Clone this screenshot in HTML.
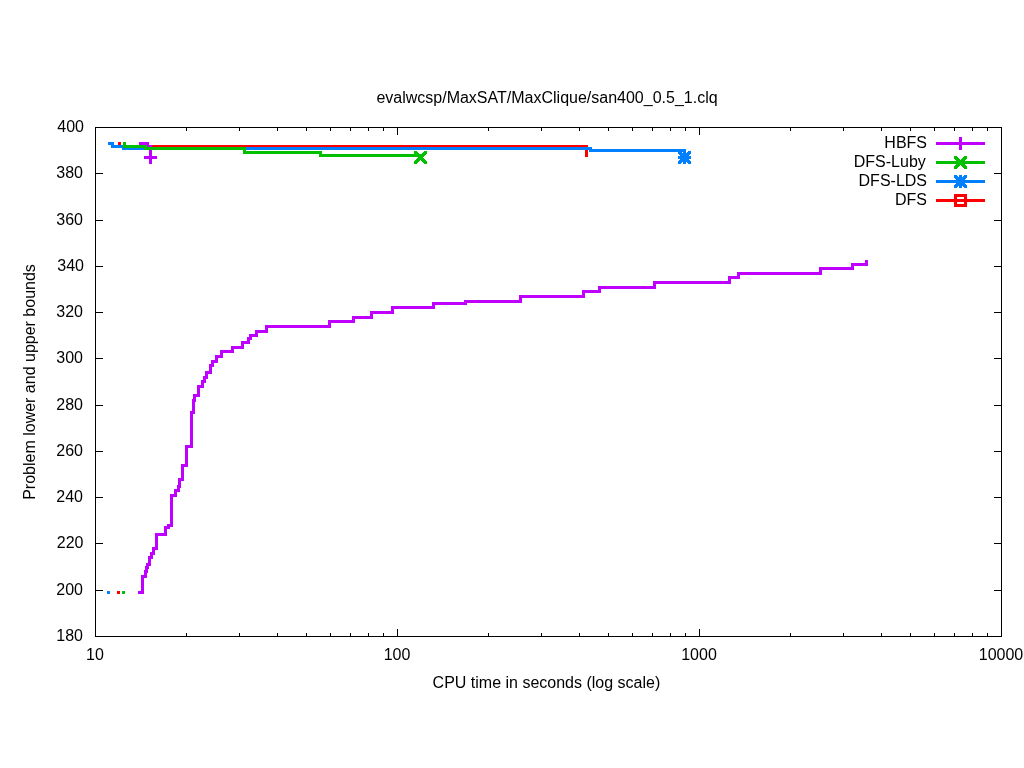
<!DOCTYPE html>
<html><head><meta charset="utf-8"><style>
html,body{margin:0;padding:0;background:#fff;width:1024px;height:768px;overflow:hidden}
svg{display:block}
text{font-family:"Liberation Sans",sans-serif;font-size:16px;fill:#000}
.t{will-change:transform}
</style></head><body>
<svg width="1024" height="768" viewBox="0 0 1024 768">
<rect x="0" y="0" width="1024" height="768" fill="#fff"/>
<g shape-rendering="crispEdges">
<rect x="95" y="127" width="907" height="1" fill="#000"/>
<rect x="95" y="636" width="907" height="1" fill="#000"/>
<rect x="95" y="127" width="1" height="510" fill="#000"/>
<rect x="1001" y="127" width="1" height="510" fill="#000"/>
<rect x="186" y="633" width="1" height="4" fill="#000"/>
<rect x="186" y="127" width="1" height="4" fill="#000"/>
<rect x="239" y="633" width="1" height="4" fill="#000"/>
<rect x="239" y="127" width="1" height="4" fill="#000"/>
<rect x="277" y="633" width="1" height="4" fill="#000"/>
<rect x="277" y="127" width="1" height="4" fill="#000"/>
<rect x="306" y="633" width="1" height="4" fill="#000"/>
<rect x="306" y="127" width="1" height="4" fill="#000"/>
<rect x="330" y="633" width="1" height="4" fill="#000"/>
<rect x="330" y="127" width="1" height="4" fill="#000"/>
<rect x="350" y="633" width="1" height="4" fill="#000"/>
<rect x="350" y="127" width="1" height="4" fill="#000"/>
<rect x="368" y="633" width="1" height="4" fill="#000"/>
<rect x="368" y="127" width="1" height="4" fill="#000"/>
<rect x="383" y="633" width="1" height="4" fill="#000"/>
<rect x="383" y="127" width="1" height="4" fill="#000"/>
<rect x="397" y="629" width="1" height="8" fill="#000"/>
<rect x="397" y="127" width="1" height="8" fill="#000"/>
<rect x="488" y="633" width="1" height="4" fill="#000"/>
<rect x="488" y="127" width="1" height="4" fill="#000"/>
<rect x="541" y="633" width="1" height="4" fill="#000"/>
<rect x="541" y="127" width="1" height="4" fill="#000"/>
<rect x="579" y="633" width="1" height="4" fill="#000"/>
<rect x="579" y="127" width="1" height="4" fill="#000"/>
<rect x="608" y="633" width="1" height="4" fill="#000"/>
<rect x="608" y="127" width="1" height="4" fill="#000"/>
<rect x="632" y="633" width="1" height="4" fill="#000"/>
<rect x="632" y="127" width="1" height="4" fill="#000"/>
<rect x="652" y="633" width="1" height="4" fill="#000"/>
<rect x="652" y="127" width="1" height="4" fill="#000"/>
<rect x="670" y="633" width="1" height="4" fill="#000"/>
<rect x="670" y="127" width="1" height="4" fill="#000"/>
<rect x="685" y="633" width="1" height="4" fill="#000"/>
<rect x="685" y="127" width="1" height="4" fill="#000"/>
<rect x="699" y="629" width="1" height="8" fill="#000"/>
<rect x="699" y="127" width="1" height="8" fill="#000"/>
<rect x="790" y="633" width="1" height="4" fill="#000"/>
<rect x="790" y="127" width="1" height="4" fill="#000"/>
<rect x="843" y="633" width="1" height="4" fill="#000"/>
<rect x="843" y="127" width="1" height="4" fill="#000"/>
<rect x="881" y="633" width="1" height="4" fill="#000"/>
<rect x="881" y="127" width="1" height="4" fill="#000"/>
<rect x="910" y="633" width="1" height="4" fill="#000"/>
<rect x="910" y="127" width="1" height="4" fill="#000"/>
<rect x="934" y="633" width="1" height="4" fill="#000"/>
<rect x="934" y="127" width="1" height="4" fill="#000"/>
<rect x="954" y="633" width="1" height="4" fill="#000"/>
<rect x="954" y="127" width="1" height="4" fill="#000"/>
<rect x="972" y="633" width="1" height="4" fill="#000"/>
<rect x="972" y="127" width="1" height="4" fill="#000"/>
<rect x="987" y="633" width="1" height="4" fill="#000"/>
<rect x="987" y="127" width="1" height="4" fill="#000"/>
<rect x="95" y="590" width="8" height="1" fill="#000"/>
<rect x="994" y="590" width="8" height="1" fill="#000"/>
<rect x="95" y="543" width="8" height="1" fill="#000"/>
<rect x="994" y="543" width="8" height="1" fill="#000"/>
<rect x="95" y="497" width="8" height="1" fill="#000"/>
<rect x="994" y="497" width="8" height="1" fill="#000"/>
<rect x="95" y="451" width="8" height="1" fill="#000"/>
<rect x="994" y="451" width="8" height="1" fill="#000"/>
<rect x="95" y="405" width="8" height="1" fill="#000"/>
<rect x="994" y="405" width="8" height="1" fill="#000"/>
<rect x="95" y="358" width="8" height="1" fill="#000"/>
<rect x="994" y="358" width="8" height="1" fill="#000"/>
<rect x="95" y="312" width="8" height="1" fill="#000"/>
<rect x="994" y="312" width="8" height="1" fill="#000"/>
<rect x="95" y="266" width="8" height="1" fill="#000"/>
<rect x="994" y="266" width="8" height="1" fill="#000"/>
<rect x="95" y="220" width="8" height="1" fill="#000"/>
<rect x="994" y="220" width="8" height="1" fill="#000"/>
<rect x="95" y="173" width="8" height="1" fill="#000"/>
<rect x="994" y="173" width="8" height="1" fill="#000"/>
<rect x="138" y="591" width="6" height="3" fill="#c000ff"/>
<rect x="141" y="575" width="3" height="19" fill="#c000ff"/>
<rect x="141" y="575" width="6" height="3" fill="#c000ff"/>
<rect x="144" y="570" width="3" height="8" fill="#c000ff"/>
<rect x="144" y="570" width="4" height="3" fill="#c000ff"/>
<rect x="145" y="566" width="3" height="7" fill="#c000ff"/>
<rect x="145" y="566" width="4" height="3" fill="#c000ff"/>
<rect x="146" y="563" width="3" height="6" fill="#c000ff"/>
<rect x="146" y="563" width="5" height="3" fill="#c000ff"/>
<rect x="148" y="556" width="3" height="10" fill="#c000ff"/>
<rect x="148" y="556" width="5" height="3" fill="#c000ff"/>
<rect x="150" y="552" width="3" height="7" fill="#c000ff"/>
<rect x="150" y="552" width="5" height="3" fill="#c000ff"/>
<rect x="152" y="547" width="3" height="8" fill="#c000ff"/>
<rect x="152" y="547" width="6" height="3" fill="#c000ff"/>
<rect x="155" y="533" width="3" height="17" fill="#c000ff"/>
<rect x="155" y="533" width="12" height="3" fill="#c000ff"/>
<rect x="164" y="526" width="3" height="10" fill="#c000ff"/>
<rect x="164" y="526" width="6" height="3" fill="#c000ff"/>
<rect x="167" y="524" width="3" height="5" fill="#c000ff"/>
<rect x="167" y="524" width="6" height="3" fill="#c000ff"/>
<rect x="170" y="494" width="3" height="33" fill="#c000ff"/>
<rect x="170" y="494" width="7" height="3" fill="#c000ff"/>
<rect x="174" y="489" width="3" height="8" fill="#c000ff"/>
<rect x="174" y="489" width="6" height="3" fill="#c000ff"/>
<rect x="177" y="485" width="3" height="7" fill="#c000ff"/>
<rect x="177" y="485" width="4" height="3" fill="#c000ff"/>
<rect x="178" y="478" width="3" height="10" fill="#c000ff"/>
<rect x="178" y="478" width="6" height="3" fill="#c000ff"/>
<rect x="181" y="464" width="3" height="17" fill="#c000ff"/>
<rect x="181" y="464" width="7" height="3" fill="#c000ff"/>
<rect x="185" y="445" width="3" height="22" fill="#c000ff"/>
<rect x="185" y="445" width="8" height="3" fill="#c000ff"/>
<rect x="190" y="411" width="3" height="37" fill="#c000ff"/>
<rect x="190" y="411" width="5" height="3" fill="#c000ff"/>
<rect x="192" y="399" width="3" height="15" fill="#c000ff"/>
<rect x="192" y="399" width="4" height="3" fill="#c000ff"/>
<rect x="193" y="394" width="3" height="8" fill="#c000ff"/>
<rect x="193" y="394" width="7" height="3" fill="#c000ff"/>
<rect x="197" y="385" width="3" height="12" fill="#c000ff"/>
<rect x="197" y="385" width="7" height="3" fill="#c000ff"/>
<rect x="201" y="380" width="3" height="8" fill="#c000ff"/>
<rect x="201" y="380" width="5" height="3" fill="#c000ff"/>
<rect x="203" y="376" width="3" height="7" fill="#c000ff"/>
<rect x="203" y="376" width="5" height="3" fill="#c000ff"/>
<rect x="205" y="371" width="3" height="8" fill="#c000ff"/>
<rect x="205" y="371" width="7" height="3" fill="#c000ff"/>
<rect x="209" y="364" width="3" height="10" fill="#c000ff"/>
<rect x="209" y="364" width="5" height="3" fill="#c000ff"/>
<rect x="211" y="360" width="3" height="7" fill="#c000ff"/>
<rect x="211" y="360" width="7" height="3" fill="#c000ff"/>
<rect x="215" y="355" width="3" height="8" fill="#c000ff"/>
<rect x="215" y="355" width="8" height="3" fill="#c000ff"/>
<rect x="220" y="350" width="3" height="8" fill="#c000ff"/>
<rect x="220" y="350" width="14" height="3" fill="#c000ff"/>
<rect x="231" y="346" width="3" height="7" fill="#c000ff"/>
<rect x="231" y="346" width="13" height="3" fill="#c000ff"/>
<rect x="241" y="341" width="3" height="8" fill="#c000ff"/>
<rect x="241" y="341" width="9" height="3" fill="#c000ff"/>
<rect x="247" y="337" width="3" height="7" fill="#c000ff"/>
<rect x="247" y="337" width="5" height="3" fill="#c000ff"/>
<rect x="249" y="334" width="3" height="6" fill="#c000ff"/>
<rect x="249" y="334" width="9" height="3" fill="#c000ff"/>
<rect x="255" y="330" width="3" height="7" fill="#c000ff"/>
<rect x="255" y="330" width="13" height="3" fill="#c000ff"/>
<rect x="265" y="325" width="3" height="8" fill="#c000ff"/>
<rect x="265" y="325" width="66" height="3" fill="#c000ff"/>
<rect x="328" y="320" width="3" height="8" fill="#c000ff"/>
<rect x="328" y="320" width="27" height="3" fill="#c000ff"/>
<rect x="352" y="316" width="3" height="7" fill="#c000ff"/>
<rect x="352" y="316" width="21" height="3" fill="#c000ff"/>
<rect x="370" y="311" width="3" height="8" fill="#c000ff"/>
<rect x="370" y="311" width="24" height="3" fill="#c000ff"/>
<rect x="391" y="306" width="3" height="8" fill="#c000ff"/>
<rect x="391" y="306" width="44" height="3" fill="#c000ff"/>
<rect x="432" y="302" width="3" height="7" fill="#c000ff"/>
<rect x="432" y="302" width="35" height="3" fill="#c000ff"/>
<rect x="464" y="300" width="3" height="5" fill="#c000ff"/>
<rect x="464" y="300" width="58" height="3" fill="#c000ff"/>
<rect x="519" y="295" width="3" height="8" fill="#c000ff"/>
<rect x="519" y="295" width="66" height="3" fill="#c000ff"/>
<rect x="582" y="290" width="3" height="8" fill="#c000ff"/>
<rect x="582" y="290" width="19" height="3" fill="#c000ff"/>
<rect x="598" y="286" width="3" height="7" fill="#c000ff"/>
<rect x="598" y="286" width="58" height="3" fill="#c000ff"/>
<rect x="653" y="281" width="3" height="8" fill="#c000ff"/>
<rect x="653" y="281" width="78" height="3" fill="#c000ff"/>
<rect x="728" y="276" width="3" height="8" fill="#c000ff"/>
<rect x="728" y="276" width="12" height="3" fill="#c000ff"/>
<rect x="737" y="272" width="3" height="7" fill="#c000ff"/>
<rect x="737" y="272" width="85" height="3" fill="#c000ff"/>
<rect x="819" y="267" width="3" height="8" fill="#c000ff"/>
<rect x="819" y="267" width="35" height="3" fill="#c000ff"/>
<rect x="851" y="263" width="3" height="7" fill="#c000ff"/>
<rect x="851" y="263" width="17" height="3" fill="#c000ff"/>
<rect x="865" y="260" width="3" height="6" fill="#c000ff"/>
<rect x="139" y="142" width="10" height="3" fill="#c000ff"/>
<rect x="147" y="142" width="2" height="6" fill="#c000ff"/>
<rect x="147" y="145" width="5" height="3" fill="#c000ff"/>
<rect x="149" y="145" width="3" height="13" fill="#c000ff"/>
<rect x="117" y="591" width="3" height="3" fill="#ff0000"/>
<rect x="118" y="142" width="3" height="3" fill="#ff0000"/>
<rect x="152" y="145" width="436" height="3" fill="#ff0000"/>
<rect x="585" y="145" width="3" height="12" fill="#ff0000"/>
<rect x="107" y="591" width="3" height="3" fill="#0080ff"/>
<rect x="108" y="142" width="6" height="3" fill="#0080ff"/>
<rect x="111" y="142" width="3" height="6" fill="#0080ff"/>
<rect x="111" y="145" width="12" height="3" fill="#0080ff"/>
<rect x="122" y="145" width="2" height="5" fill="#0080ff"/>
<rect x="122" y="147" width="470" height="3" fill="#0080ff"/>
<rect x="589" y="147" width="3" height="5" fill="#0080ff"/>
<rect x="589" y="149" width="97" height="3" fill="#0080ff"/>
<rect x="684" y="149" width="2" height="9" fill="#0080ff"/>
<rect x="122" y="591" width="3" height="3" fill="#00c000"/>
<rect x="123" y="142" width="3" height="6" fill="#00c000"/>
<rect x="123" y="145" width="24" height="3" fill="#00c000"/>
<rect x="144" y="145" width="3" height="5" fill="#00c000"/>
<rect x="144" y="147" width="102" height="3" fill="#00c000"/>
<rect x="243" y="147" width="3" height="7" fill="#00c000"/>
<rect x="243" y="151" width="79" height="3" fill="#00c000"/>
<rect x="319" y="151" width="3" height="6" fill="#00c000"/>
<rect x="319" y="154" width="102" height="3" fill="#00c000"/>
<rect x="144" y="156" width="13" height="3" fill="#c000ff"/>
<rect x="149" y="151" width="3" height="13" fill="#c000ff"/>
<rect x="414" y="151" width="3" height="3" fill="#00c000"/>
<rect x="414" y="161" width="3" height="3" fill="#00c000"/>
<rect x="415" y="152" width="3" height="3" fill="#00c000"/>
<rect x="415" y="160" width="3" height="3" fill="#00c000"/>
<rect x="416" y="153" width="3" height="3" fill="#00c000"/>
<rect x="416" y="159" width="3" height="3" fill="#00c000"/>
<rect x="417" y="154" width="3" height="3" fill="#00c000"/>
<rect x="417" y="158" width="3" height="3" fill="#00c000"/>
<rect x="418" y="155" width="3" height="3" fill="#00c000"/>
<rect x="418" y="157" width="3" height="3" fill="#00c000"/>
<rect x="419" y="156" width="3" height="3" fill="#00c000"/>
<rect x="419" y="156" width="3" height="3" fill="#00c000"/>
<rect x="420" y="157" width="3" height="3" fill="#00c000"/>
<rect x="420" y="155" width="3" height="3" fill="#00c000"/>
<rect x="421" y="158" width="3" height="3" fill="#00c000"/>
<rect x="421" y="154" width="3" height="3" fill="#00c000"/>
<rect x="422" y="159" width="3" height="3" fill="#00c000"/>
<rect x="422" y="153" width="3" height="3" fill="#00c000"/>
<rect x="423" y="160" width="3" height="3" fill="#00c000"/>
<rect x="423" y="152" width="3" height="3" fill="#00c000"/>
<rect x="424" y="161" width="3" height="3" fill="#00c000"/>
<rect x="424" y="151" width="3" height="3" fill="#00c000"/>
<rect x="678" y="151" width="3" height="3" fill="#0080ff"/>
<rect x="678" y="161" width="3" height="3" fill="#0080ff"/>
<rect x="679" y="152" width="3" height="3" fill="#0080ff"/>
<rect x="679" y="160" width="3" height="3" fill="#0080ff"/>
<rect x="680" y="153" width="3" height="3" fill="#0080ff"/>
<rect x="680" y="159" width="3" height="3" fill="#0080ff"/>
<rect x="681" y="154" width="3" height="3" fill="#0080ff"/>
<rect x="681" y="158" width="3" height="3" fill="#0080ff"/>
<rect x="682" y="155" width="3" height="3" fill="#0080ff"/>
<rect x="682" y="157" width="3" height="3" fill="#0080ff"/>
<rect x="683" y="156" width="3" height="3" fill="#0080ff"/>
<rect x="683" y="156" width="3" height="3" fill="#0080ff"/>
<rect x="684" y="157" width="3" height="3" fill="#0080ff"/>
<rect x="684" y="155" width="3" height="3" fill="#0080ff"/>
<rect x="685" y="158" width="3" height="3" fill="#0080ff"/>
<rect x="685" y="154" width="3" height="3" fill="#0080ff"/>
<rect x="686" y="159" width="3" height="3" fill="#0080ff"/>
<rect x="686" y="153" width="3" height="3" fill="#0080ff"/>
<rect x="687" y="160" width="3" height="3" fill="#0080ff"/>
<rect x="687" y="152" width="3" height="3" fill="#0080ff"/>
<rect x="688" y="161" width="3" height="3" fill="#0080ff"/>
<rect x="688" y="151" width="3" height="3" fill="#0080ff"/>
<rect x="678" y="156" width="13" height="3" fill="#0080ff"/>
<rect x="683" y="151" width="3" height="13" fill="#0080ff"/>
<rect x="936" y="142" width="49" height="3" fill="#c000ff"/>
<rect x="954" y="142" width="13" height="3" fill="#c000ff"/>
<rect x="959" y="137" width="3" height="13" fill="#c000ff"/>
<rect x="936" y="161" width="49" height="3" fill="#00c000"/>
<rect x="954" y="156" width="3" height="3" fill="#00c000"/>
<rect x="954" y="166" width="3" height="3" fill="#00c000"/>
<rect x="955" y="157" width="3" height="3" fill="#00c000"/>
<rect x="955" y="165" width="3" height="3" fill="#00c000"/>
<rect x="956" y="158" width="3" height="3" fill="#00c000"/>
<rect x="956" y="164" width="3" height="3" fill="#00c000"/>
<rect x="957" y="159" width="3" height="3" fill="#00c000"/>
<rect x="957" y="163" width="3" height="3" fill="#00c000"/>
<rect x="958" y="160" width="3" height="3" fill="#00c000"/>
<rect x="958" y="162" width="3" height="3" fill="#00c000"/>
<rect x="959" y="161" width="3" height="3" fill="#00c000"/>
<rect x="959" y="161" width="3" height="3" fill="#00c000"/>
<rect x="960" y="162" width="3" height="3" fill="#00c000"/>
<rect x="960" y="160" width="3" height="3" fill="#00c000"/>
<rect x="961" y="163" width="3" height="3" fill="#00c000"/>
<rect x="961" y="159" width="3" height="3" fill="#00c000"/>
<rect x="962" y="164" width="3" height="3" fill="#00c000"/>
<rect x="962" y="158" width="3" height="3" fill="#00c000"/>
<rect x="963" y="165" width="3" height="3" fill="#00c000"/>
<rect x="963" y="157" width="3" height="3" fill="#00c000"/>
<rect x="964" y="166" width="3" height="3" fill="#00c000"/>
<rect x="964" y="156" width="3" height="3" fill="#00c000"/>
<rect x="936" y="180" width="49" height="3" fill="#0080ff"/>
<rect x="954" y="175" width="3" height="3" fill="#0080ff"/>
<rect x="954" y="185" width="3" height="3" fill="#0080ff"/>
<rect x="955" y="176" width="3" height="3" fill="#0080ff"/>
<rect x="955" y="184" width="3" height="3" fill="#0080ff"/>
<rect x="956" y="177" width="3" height="3" fill="#0080ff"/>
<rect x="956" y="183" width="3" height="3" fill="#0080ff"/>
<rect x="957" y="178" width="3" height="3" fill="#0080ff"/>
<rect x="957" y="182" width="3" height="3" fill="#0080ff"/>
<rect x="958" y="179" width="3" height="3" fill="#0080ff"/>
<rect x="958" y="181" width="3" height="3" fill="#0080ff"/>
<rect x="959" y="180" width="3" height="3" fill="#0080ff"/>
<rect x="959" y="180" width="3" height="3" fill="#0080ff"/>
<rect x="960" y="181" width="3" height="3" fill="#0080ff"/>
<rect x="960" y="179" width="3" height="3" fill="#0080ff"/>
<rect x="961" y="182" width="3" height="3" fill="#0080ff"/>
<rect x="961" y="178" width="3" height="3" fill="#0080ff"/>
<rect x="962" y="183" width="3" height="3" fill="#0080ff"/>
<rect x="962" y="177" width="3" height="3" fill="#0080ff"/>
<rect x="963" y="184" width="3" height="3" fill="#0080ff"/>
<rect x="963" y="176" width="3" height="3" fill="#0080ff"/>
<rect x="964" y="185" width="3" height="3" fill="#0080ff"/>
<rect x="964" y="175" width="3" height="3" fill="#0080ff"/>
<rect x="954" y="180" width="13" height="3" fill="#0080ff"/>
<rect x="959" y="175" width="3" height="13" fill="#0080ff"/>
<rect x="936" y="199" width="49" height="3" fill="#ff0000"/>
<rect x="954" y="194" width="13" height="3" fill="#ff0000"/>
<rect x="954" y="204" width="13" height="3" fill="#ff0000"/>
<rect x="954" y="194" width="3" height="13" fill="#ff0000"/>
<rect x="964" y="194" width="3" height="13" fill="#ff0000"/>
</g>
<g class="t">
<text x="547" y="103" text-anchor="middle">evalwcsp/MaxSAT/MaxClique/san400_0.5_1.clq</text>
<text x="546.4" y="688" text-anchor="middle">CPU time in seconds (log scale)</text>
<text transform="translate(35 382) rotate(-90)" text-anchor="middle">Problem lower and upper bounds</text>
<text x="83" y="641" text-anchor="end">180</text>
<text x="83" y="595" text-anchor="end">200</text>
<text x="83.5" y="548" text-anchor="end">220</text>
<text x="83" y="502" text-anchor="end">240</text>
<text x="83" y="456" text-anchor="end">260</text>
<text x="83" y="410" text-anchor="end">280</text>
<text x="83" y="363" text-anchor="end">300</text>
<text x="83" y="317" text-anchor="end">320</text>
<text x="84" y="271" text-anchor="end">340</text>
<text x="83" y="225" text-anchor="end">360</text>
<text x="83" y="178" text-anchor="end">380</text>
<text x="84" y="132" text-anchor="end">400</text>
<text x="95" y="660" text-anchor="middle">10</text>
<text x="397" y="660" text-anchor="middle">100</text>
<text x="699" y="660" text-anchor="middle">1000</text>
<text x="1001" y="660" text-anchor="middle">10000</text>
<text x="927" y="148" text-anchor="end">HBFS</text>
<text x="925.8" y="167" text-anchor="end">DFS-Luby</text>
<text x="927" y="186" text-anchor="end">DFS-LDS</text>
<text x="927" y="205" text-anchor="end">DFS</text>
</g>
</svg>
</body></html>
